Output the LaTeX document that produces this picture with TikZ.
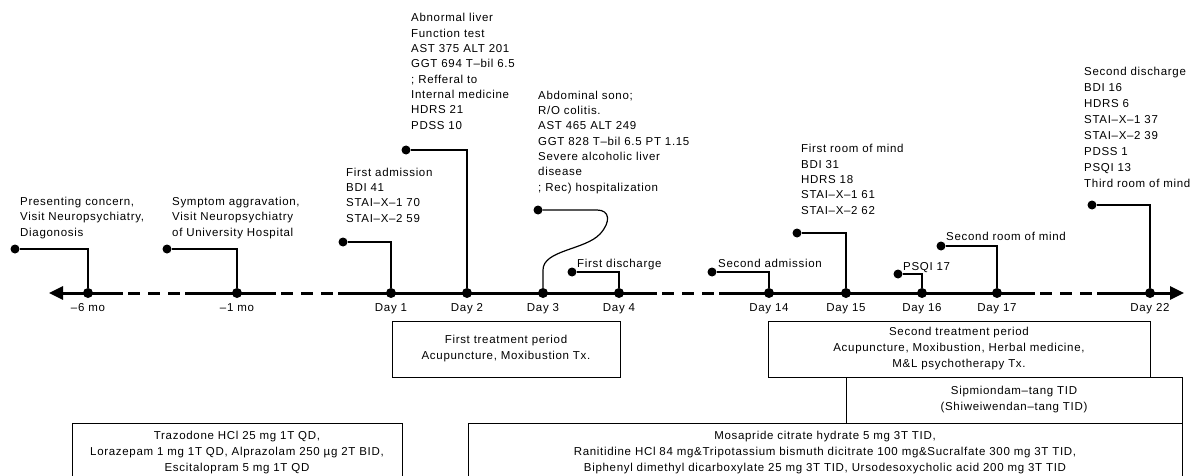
\documentclass[tikz,border=0pt]{standalone}
\usepackage{fontspec}
\setmainfont{Liberation Sans}[LetterSpace=6]
\usetikzlibrary{arrows.meta}
\tikzset{
 tl/.style={line width=3pt},
 tldash/.style={line width=3pt, dash pattern=on 12pt off 8pt},
 con/.style={line width=1.2pt},
 tdot/.style={circle, fill=black, inner sep=0pt, minimum size=10pt},
 edot/.style={circle, fill=black, inner sep=0pt, minimum size=9pt},
 lbl/.style={anchor=base west, inner sep=0pt, align=left, font=\fontsize{11.5}{15.3}\selectfont},
 dlbl/.style={anchor=base, inner sep=0pt, font=\fontsize{11.5}{14}\selectfont},
 tbox/.style={draw, line width=0.9pt, inner sep=0pt, align=center, font=\fontsize{11.5}{16}\selectfont},
}
\begin{document}
\begin{tikzpicture}[x=1pt,y=-1pt]
\useasboundingbox (0,0) rectangle (1199,476);
\clip (0,0) rectangle (1199,476);
\fill[white] (0,0) rectangle (1199,476);
% timeline breakpoints
\coordinate (aL) at (49,293);
\coordinate (aR) at (1184,293);
\coordinate (b1) at (123,293); \coordinate (b2) at (128,293);
\coordinate (b3) at (180,293); \coordinate (b4) at (185,293);
\coordinate (b5) at (276,293); \coordinate (b6) at (281,293);
\coordinate (b7) at (333,293); \coordinate (b8) at (338,293);
\coordinate (b9) at (657,293); \coordinate (b10) at (662,293);
\coordinate (b11) at (714,293); \coordinate (b12) at (719,293);
\coordinate (b13) at (1035,293); \coordinate (b14) at (1040,293);
\coordinate (b15) at (1092,293); \coordinate (b16) at (1097,293);
\draw[tl, {Triangle[length=14pt,width=13pt]}-] (aL) -- (b1);
\draw[tldash] (b2) -- (b3);
\draw[tl] (b4) -- (b5);
\draw[tldash] (b6) -- (b7);
\draw[tl] (b8) -- (b9);
\draw[tldash] (b10) -- (b11);
\draw[tl] (b12) -- (b13);
\draw[tldash] (b14) -- (b15);
\draw[tl, -{Triangle[length=14pt,width=13pt]}] (b16) -- (aR);
% timeline dots
\node[tdot] (t1) at (88,293) {};
\node[tdot] (t2) at (237,293) {};
\node[tdot] (t3) at (391,293) {};
\node[tdot] (t4) at (467,293) {};
\node[tdot] (t5) at (543,293) {};
\node[tdot] (t6) at (619,293) {};
\node[tdot] (t7) at (769,293) {};
\node[tdot] (t8) at (846,293) {};
\node[tdot] (t9) at (922,293) {};
\node[tdot] (t10) at (997,293) {};
\node[tdot] (t11) at (1150,293) {};
% timeline labels
\node[dlbl] (d1) at (88,311) {–6 mo};
\node[dlbl] (d2) at (237,311) {–1 mo};
\node[dlbl] (d3) at (391,311) {Day 1};
\node[dlbl] (d4) at (467,311) {Day 2};
\node[dlbl] (d5) at (543,311) {Day 3};
\node[dlbl] (d6) at (619,311) {Day 4};
\node[dlbl] (d7) at (769,311) {Day 14};
\node[dlbl] (d8) at (846,311) {Day 15};
\node[dlbl] (d9) at (922,311) {Day 16};
\node[dlbl] (d10) at (997,311) {Day 17};
\node[dlbl] (d11) at (1150,311) {Day 22};
% event dots and connectors
\node[edot] (e1) at (15,249) {};
\node[edot] (e2) at (167,249) {};
\node[edot] (e3) at (343,242) {};
\node[edot] (e4) at (406,150) {};
\node[edot] (e5) at (538,210) {};
\node[edot] (e6) at (572,272) {};
\node[edot] (e7) at (712,272) {};
\node[edot] (e8) at (797,233) {};
\node[edot] (e9) at (898,274) {};
\node[edot] (e10) at (941,246) {};
\node[edot] (e11) at (1092,205) {};
\draw[con] (e1) -| (t1);
\draw[con] (e2) -| (t2);
\draw[con] (e3) -| (t3);
\draw[con] (e4) -| (t4);
\coordinate (c5) at (597,210);
\draw[con] (e5) -- (c5) .. controls (610,210) and (611,222) .. (600,234)
  .. controls (585,250) and (543,250) .. (543,270) -- (t5);
\draw[con] (e6) -| (t6);
\draw[con] (e7) -| (t7);
\draw[con] (e8) -| (t8);
\draw[con] (e9) -| (t9);
\draw[con] (e10) -| (t10);
\draw[con] (e11) -| (t11);
% event texts
\node[lbl] (l1) at (20,236) {Presenting concern,\\Visit Neuropsychiatry,\\Diagonosis};
\node[lbl] (l2) at (172,236) {Symptom aggravation,\\Visit Neuropsychiatry\\of University Hospital};
\node[lbl] (l3) at (346,222) {First admission\\BDI 41\\STAI–X–1 70\\STAI–X–2 59};
\node[lbl] (l4) at (411,129) {Abnormal liver\\Function test\\AST 375 ALT 201\\GGT 694 T–bil 6.5\\; Refferal to\\Internal medicine\\HDRS 21\\PDSS 10};
\node[lbl] (l5) at (538,191) {Abdominal sono;\\R/O colitis.\\AST 465 ALT 249\\GGT 828 T–bil 6.5 PT 1.15\\Severe alcoholic liver\\disease\\; Rec) hospitalization};
\node[lbl] (l6) at (577,267) {First discharge};
\node[lbl] (l7) at (718,267) {Second admission};
\node[lbl] (l8) at (801,214) {First room of mind\\BDI 31\\HDRS 18\\STAI–X–1 61\\STAI–X–2 62};
\node[lbl] (l9) at (903,270) {PSQI 17};
\node[lbl] (l10) at (946,240) {Second room of mind};
\node[lbl, font=\fontsize{11.5}{16}\selectfont] (l11) at (1084,187) {Second discharge\\BDI 16\\HDRS 6\\STAI–X–1 37\\STAI–X–2 39\\PDSS 1\\PSQI 13\\Third room of mind};
% boxes
\node[tbox, minimum width=228pt, minimum height=56pt] (x1) at (506,349) {First treatment period\\Acupuncture, Moxibustion Tx.};
\node[tbox, minimum width=382pt, minimum height=56pt] (x2) at (959,349) {Second treatment period\\Acupuncture, Moxibustion, Herbal medicine,\\M\&L psychotherapy Tx.};
\node[tbox, minimum width=336pt, minimum height=46pt] (x3) at (1014,400) {Sipmiondam–tang TID\\(Shiweiwendan–tang TID)};
\node[tbox, minimum width=330pt, minimum height=60pt] (x4) at (237,453) {Trazodone HCl 25 mg 1T QD,\\Lorazepam 1 mg 1T QD, Alprazolam 250 µg 2T BID,\\Escitalopram 5 mg 1T QD};
\node[tbox, minimum width=714pt, minimum height=60pt] (x5) at (825,453) {Mosapride citrate hydrate 5 mg 3T TID,\\Ranitidine HCl 84 mg\&Tripotassium bismuth dicitrate 100 mg\&Sucralfate 300 mg 3T TID,\\Biphenyl dimethyl dicarboxylate 25 mg 3T TID, Ursodesoxycholic acid 200 mg 3T TID};
\end{tikzpicture}
\end{document}
